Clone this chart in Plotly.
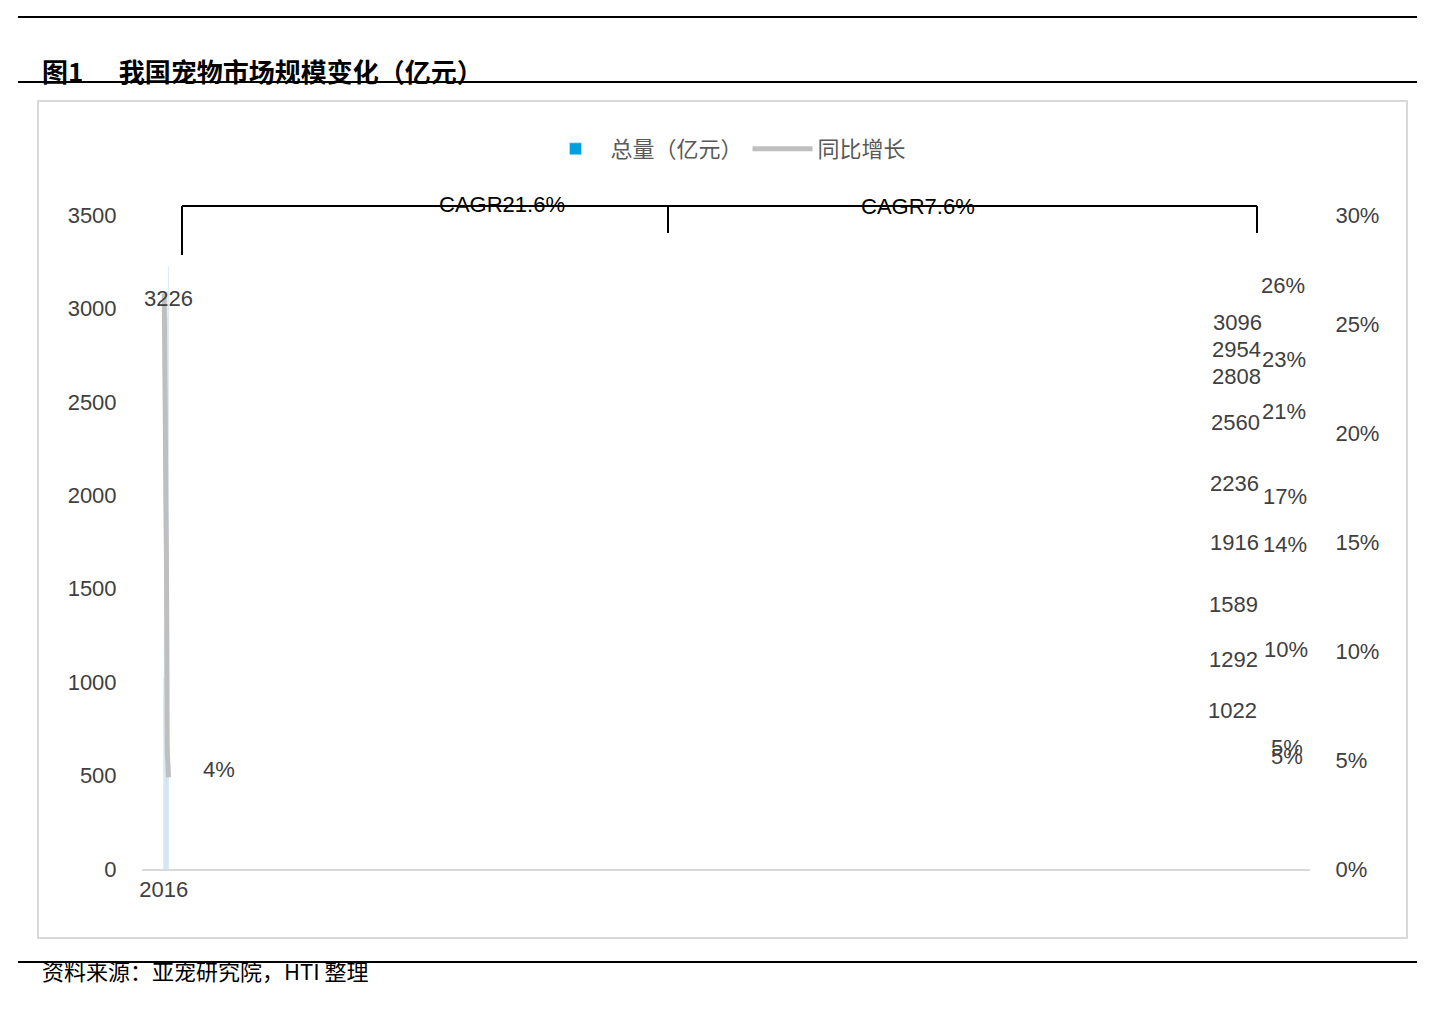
import plotly.graph_objects as go

years = ["2016", "2017", "2018", "2019", "2020", "2021", "2022", "2023", "2024", "2025E"]
total = [1022, 1292, 1589, 1916, 2236, 2560, 2808, 2954, 3096, 3226]
growth = [None, 26.4, 23.0, 20.6, 16.7, 14.5, 9.7, 5.2, 4.8, 4.2]
growth_lbl = [None, "26%", "23%", "21%", "17%", "14%", "10%", "5%", "5%", "4%"]

# page has an 8px body margin, so draw the figure 8px smaller and shifted
OFF = 8
FW, FH = 1440 - OFF, 1021 - OFF
L, T = 142 - OFF, 215 - OFF
W, H = 1168, 654
R, B = FW - L - W, FH - T - H


def px(x):
    return (x - OFF - L) / W


def py(y):
    return (T + H - (y - OFF)) / H


font = "Arial, Noto Sans CJK SC"
fig = go.Figure()
fig.add_trace(go.Bar(x=years, y=total, name="总量（亿元）", marker_color="#00A0DF", width=0.31))
fig.add_trace(go.Scatter(x=years, y=growth, name="同比增长", yaxis="y2", mode="lines",
                         line=dict(color="#BFBFBF", width=5, shape="spline"), connectgaps=False))

for x, v in zip(years, total):
    fig.add_annotation(x=x, y=v, text=str(v), showarrow=False, yshift=-32,
                       font=dict(size=22, color="#404040"))
for x, g, t in zip(years, growth, growth_lbl):
    if g is not None:
        fig.add_annotation(x=x, y=g, yref="y2", text=t, showarrow=False, xshift=50, yshift=8,
                           font=dict(size=22, color="#404040"))

# CAGR brackets
blk = dict(color="black", width=2)
for x0, y0, x1, y1 in [(182, 206, 1257, 206), (182, 206, 182, 255), (668, 206, 668, 233), (1257, 206, 1257, 233)]:
    fig.add_shape(type="line", xref="paper", yref="paper", x0=px(x0), y0=py(y0), x1=px(x1), y1=py(y1), line=blk)
fig.add_annotation(xref="paper", yref="paper", x=px(437), y=py(190), text="CAGR21.6%", showarrow=False,
                   font=dict(size=22, color="black"))
fig.add_annotation(xref="paper", yref="paper", x=px(977), y=py(192), text="CAGR7.6%", showarrow=False,
                   font=dict(size=22, color="black"))

# frame, title, source
fig.add_shape(type="rect", xref="paper", yref="paper", x0=px(38), y0=py(101), x1=px(1407), y1=py(938),
              line=dict(color="#D9D9D9", width=2))
for y in (17, 82, 962):
    fig.add_shape(type="line", xref="paper", yref="paper", x0=px(18), x1=px(1417), y0=py(y), y1=py(y),
                  line=dict(color="black", width=2))
fig.add_annotation(xref="paper", yref="paper", x=px(40), y=py(50), xanchor="left",
                   text="<b>图1      我国宠物市场规模变化（亿元）</b>", showarrow=False,
                   font=dict(size=26, color="black", family="Noto Sans CJK SC"))
fig.add_annotation(xref="paper", yref="paper", x=px(40), y=py(988), xanchor="left",
                   text="资料来源：亚宠研究院，HTI 整理", showarrow=False,
                   font=dict(size=22, color="black", family="Noto Sans CJK SC"))

fig.update_layout(
    width=FW, height=FH,
    margin=dict(l=L, r=R, t=T, b=B),
    plot_bgcolor="white", paper_bgcolor="white",
    font=dict(family=font, size=22, color="#404040"),
    legend=dict(orientation="h", x=0.5, xanchor="center", y=py(149), yanchor="middle",
                font=dict(size=22, color="#595959"), itemwidth=60),
    xaxis=dict(type="category", showline=True, linecolor="#D9D9D9", linewidth=2, ticks="", showgrid=False),
    yaxis=dict(range=[0, 3500], dtick=500, showgrid=False, zeroline=False, ticks="outside",
               ticklen=20, tickcolor="white"),
    yaxis2=dict(range=[0, 30], dtick=5, ticksuffix="%", overlaying="y", side="right", showgrid=False,
                zeroline=False, ticks="outside", ticklen=20, tickcolor="white"),
)
fig.write_html("out.html")
